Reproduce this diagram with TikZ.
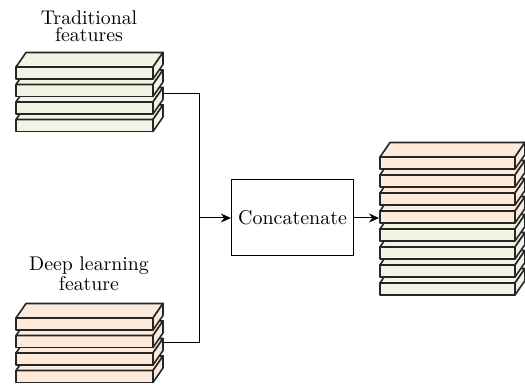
\documentclass[tikz,border=0pt]{standalone}
\usepackage{tikz}
\usetikzlibrary{arrows.meta,positioning}

\definecolor{tradgreen}{HTML}{F0F4E2}
\definecolor{deeppeach}{HTML}{FDEADB}

% one feature slab: x, y (front top left), width, fill
\newcommand{\slab}[4]{%
  \filldraw[slabline, fill=#4] (#1,#2) rectangle ++(#3,12);
  \filldraw[slabline, fill=#4] (#1,#2) -- ++(10,-14.5) -- ++(#3,0) -- ++(-10,14.5) -- cycle;
  \filldraw[slabline, fill=#4] (#1+#3,#2) -- ++(10,-14.5) -- ++(0,12) -- ++(-10,14.5) -- cycle;
}

\tikzset{
  slabline/.style={line width=0.8pt, line join=round, draw=black!85},
  wire/.style={line width=0.5pt},
  label/.style={align=center, font=\fontsize{9.9}{8.7}\selectfont},
}

\begin{document}
\begin{tikzpicture}[x=0.5pt, y=-0.5pt, >={Stealth[length=5pt,width=4.5pt]}]
    \useasboundingbox (0,0) rectangle (525,389);

    % input stacks
    \foreach \y in {119.5,102,84.5,67} {\slab{16}{\y}{137}{tradgreen}}
    \foreach \y in {370.5,353,335.5,318} {\slab{16}{\y}{137}{deeppeach}}

    % concatenated stack
    \foreach \y in {283,265,247,229} {\slab{380}{\y}{135}{tradgreen}}
    \foreach \y in {211,193,175,157} {\slab{380}{\y}{135}{deeppeach}}

    \node[label] (trad)  at (89,26)  {Traditional\\features};
    \node[label] (deep)  at (89,274) {Deep learning\\feature};

    \node[draw, wire, minimum width=59.5pt, minimum height=38pt,
          font=\fontsize{10}{12}\selectfont] (concat) at (292.5,218) {Concatenate};

    \coordinate (trad out)  at (162,94);
    \coordinate (deep out)  at (162,343);
    \coordinate (join)      at (199,218);
    \coordinate (merged in) at (379,218);

    \draw[wire] (trad out) -| (join);
    \draw[wire] (deep out) -| (join);
    \draw[wire, ->] (join) -- (concat);
    \draw[wire, ->] (concat) -- (merged in);
\end{tikzpicture}
\end{document}
